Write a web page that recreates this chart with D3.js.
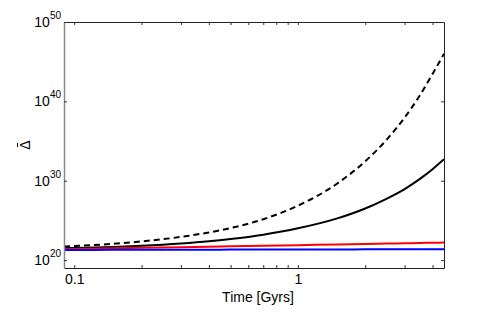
<!DOCTYPE html>
<html>
<head>
<meta charset="utf-8">
<script src="https://cdn.jsdelivr.net/npm/d3@7"></script>
<style>
  body { margin: 0; background: #fff; }
  svg { display: block; font-family: "Liberation Sans", Arial, sans-serif; }
</style>
</head>
<body>
<div id="chart"></div>
<script>
// time in Gyrs
const times = [0.09, 0.1, 0.15, 0.2, 0.3, 0.4, 0.5, 0.7, 1, 1.5, 2, 2.5, 3, 3.5, 4, 4.5];
// log10 of Delta-bar
const dashedLog = [21.70, 21.76, 22.05, 22.35, 22.92, 23.48, 24.03, 25.15, 26.85, 29.65, 32.45, 35.20, 37.95, 40.70, 43.45, 46.00];
const blackLog  = [21.50, 21.53, 21.66, 21.80, 22.08, 22.36, 22.65, 23.20, 24.00, 25.25, 26.50, 27.75, 28.95, 30.20, 31.45, 32.70];
const redLog    = [21.37, 21.39, 21.48, 21.54, 21.63, 21.69, 21.74, 21.81, 21.88, 21.97, 22.03, 22.08, 22.12, 22.15, 22.18, 22.20];
const blueLog   = [21.28, 21.28, 21.29, 21.30, 21.31, 21.31, 21.32, 21.32, 21.33, 21.34, 21.35, 21.35, 21.36, 21.36, 21.37, 21.37];

const xMajor = [0.1, 1];
const xMinor = [0.2, 0.3, 0.4, 0.5, 0.6, 0.7, 0.8, 0.9, 2, 3, 4];
const yExponents = [20, 30, 40, 50];

const series = [
  { name: "dashed", values: dashedLog, color: "#000", dash: "6,4" },
  { name: "black", values: blackLog, color: "#000", dash: null },
  { name: "red", values: redLog, color: "#f00", dash: null },
  { name: "blue", values: blueLog, color: "#00f", dash: null }
];

const width = 491, height = 316;
const margin = { top: 22, right: 47, bottom: 48, left: 64 };

const svg = d3.select("#chart").append("svg")
  .attr("width", width)
  .attr("height", height);

const x = d3.scaleLog()
  .domain([0.09, 4.5])
  .range([margin.left, width - margin.right]);

const y = d3.scaleLog()
  .domain([1e19, 1e50])
  .range([height - margin.bottom, margin.top]);

const line = d3.line()
  .x((d, i) => x(times[i]))
  .y(d => y(Math.pow(10, d)))
  .curve(d3.curveMonotoneX);

const plot = svg.append("g");
plot.append("defs").append("clipPath").attr("id", "clip")
  .append("rect")
  .attr("x", margin.left).attr("y", margin.top)
  .attr("width", width - margin.left - margin.right)
  .attr("height", height - margin.top - margin.bottom);

plot.append("g")
  .attr("clip-path", "url(#clip)")
  .selectAll("path")
  .data(series)
  .join("path")
  .attr("d", d => line(d.values))
  .attr("fill", "none")
  .attr("stroke", d => d.color)
  .attr("stroke-width", 2)
  .attr("stroke-dasharray", d => d.dash);

// x axes (bottom with labels, top without)
const xTicks = xMajor.concat(xMinor);
const xBottom = svg.append("g")
  .attr("transform", `translate(0,${height - margin.bottom})`)
  .call(d3.axisBottom(x).tickValues(xTicks).tickSizeInner(-3).tickSizeOuter(0)
    .tickFormat(d => xMajor.includes(d) ? d3.format("")(d) : ""));
xBottom.selectAll("text").attr("dy", 0).attr("y", 16).attr("font-size", 14)
  .attr("font-family", "Liberation Sans, Arial, sans-serif").attr("fill", "#000");

svg.append("g")
  .attr("transform", `translate(0,${margin.top})`)
  .call(d3.axisTop(x).tickValues(xTicks).tickSizeInner(-3).tickSizeOuter(0).tickFormat(""));

// y axes
const yTicks = yExponents.map(e => Math.pow(10, e));
const yLeft = svg.append("g")
  .attr("transform", `translate(${margin.left},0)`)
  .call(d3.axisLeft(y).tickValues(yTicks).tickSizeInner(-3).tickSizeOuter(0).tickFormat(""));

svg.append("g")
  .attr("transform", `translate(${width - margin.right},0)`)
  .call(d3.axisRight(y).tickValues(yTicks).tickSizeInner(-3).tickSizeOuter(0).tickFormat(""));

svg.selectAll(".domain").attr("stroke", "#222").attr("stroke-width", 1);
svg.selectAll(".tick line").attr("stroke", "#333");
yLeft.select(".domain").attr("stroke", "#888").attr("stroke-width", 1.5);

// y tick labels with superscripts
const yLab = svg.append("g")
  .selectAll("text")
  .data(yExponents)
  .join("text")
  .attr("x", margin.left - 3)
  .attr("y", d => y(Math.pow(10, d)) + 5)
  .attr("text-anchor", "end")
  .attr("font-size", 14)
  .attr("fill", "#000");
yLab.append("tspan").text("10");
yLab.append("tspan").attr("dy", -8).attr("font-size", 10).text(d => d);

// axis titles
svg.append("text")
  .attr("x", 258)
  .attr("y", 302)
  .attr("text-anchor", "middle")
  .attr("font-size", 14)
  .text("Time [Gyrs]");

// rotated Delta with a bar over it
const yTitle = svg.append("g").attr("transform", "translate(30,145) rotate(-90)");
yTitle.append("text")
  .attr("text-anchor", "middle")
  .attr("font-size", 14)
  .text("\u0394");
yTitle.append("line")
  .attr("x1", -2).attr("x2", 2)
  .attr("y1", -12.5).attr("y2", -12.5)
  .attr("stroke", "#000")
  .attr("stroke-width", 1);
</script>
</body>
</html>
